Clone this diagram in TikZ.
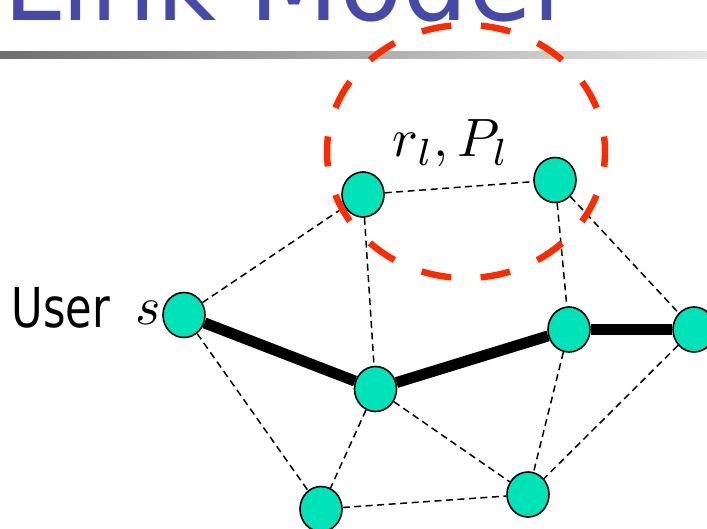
\documentclass[tikz,border=0pt]{standalone}
\usepackage{graphicx}
\usepackage{fontspec}
\usetikzlibrary{shapes.geometric}
\newfontfamily\titlefam[FakeStretch=0.935]{DejaVu Sans}
\newfontfamily\userfam[FakeStretch=0.785]{DejaVu Sans}
\definecolor{nodefill}{RGB}{0,226,184}
\definecolor{ringred}{RGB}{255,43,0}
\definecolor{titleblue}{RGB}{69,73,168}
\definecolor{bardark}{RGB}{110,110,110}
\definecolor{barlight}{RGB}{230,230,230}
\tikzset{
  vertex/.style={ellipse, draw=black, line width=1.6pt, fill=nodefill,
    minimum width=42pt, minimum height=45pt, inner sep=0pt},
  thin link/.style={line width=1.5pt, dash pattern=on 7pt off 4.5pt},
  thick link/.style={line width=11pt},
  ring/.style={draw=ringred, line width=6.5pt, dash pattern=on 30pt off 29.6pt, dash phase=15pt},
  mathlabel/.style={anchor=base, inner sep=0pt},
}
\begin{document}
\begin{tikzpicture}[x=1pt,y=-1pt]
\useasboundingbox (0,0) rectangle (707,529);
\clip (0,0) rectangle (707,529);
% title and bar
\node[anchor=base west, inner sep=0pt, text=titleblue,
  font=\titlefam\fontsize{111}{120}\selectfont] (title) at (3.8,21) {Link Model};
\shade[left color=bardark, right color=barlight] (0,52) rectangle (707,59);
% nodes
\node[vertex] (S) at (184,315) {};
\node[vertex] (A) at (363,194.5) {};
\node[vertex] (B) at (555,180) {};
\node[vertex] (C) at (375.5,389) {};
\node[vertex] (D) at (569,329.5) {};
\node[vertex] (E) at (694,329.5) {};
\node[vertex] (F) at (321,509) {};
\node[vertex] (G) at (528,494.5) {};
% edges
\draw[thin link] (S) -- (A);
\draw[thin link] (A) -- (B);
\draw[thin link] (A) -- (C);
\draw[thin link] (B) -- (D);
\draw[thin link] (B) -- (E);
\draw[thin link] (S) -- (F);
\draw[thin link] (C) -- (F);
\draw[thin link] (C) -- (G);
\draw[thin link] (D) -- (G);
\draw[thin link] (E) -- (G);
\draw[thin link] (F) -- (G);
\draw[thick link] (S) -- (C);
\draw[thick link] (C) -- (D);
\draw[thick link] (D) -- (E);
% labels
\node[anchor=base west, inner sep=0pt,
  font=\userfam\fontsize{55}{60}\selectfont] (user) at (11.6,328) {User};
\node[mathlabel] (s) at (148,325) {\scalebox{5.4}{$s$}};
\node[mathlabel] (lab) at (451,157) {\scalebox{5.4}{$r_l, P_l$}};
% red dashed ring
\draw[ring] (466,151.5) ellipse [x radius=139pt, y radius=126.5pt];
\end{tikzpicture}
\end{document}
